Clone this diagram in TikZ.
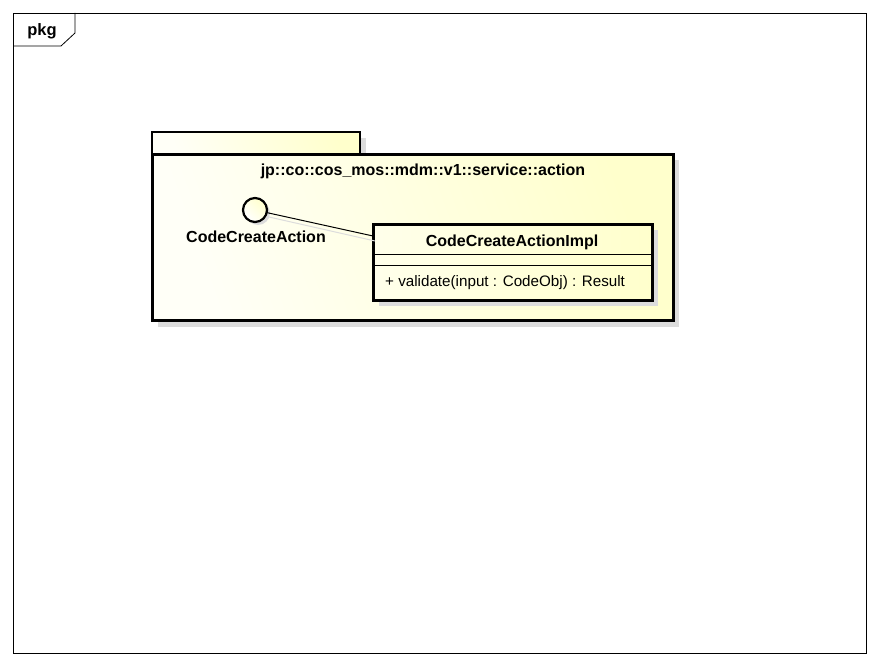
\documentclass[tikz,border=0pt]{standalone}
\usepackage{fontspec}
\setmainfont{Liberation Sans}
\usetikzlibrary{calc}
\definecolor{umlyellow}{RGB}{255,255,204}
\definecolor{umlshadow}{RGB}{220,220,220}
\tikzset{
  px/.style={x=1pt,y=-1pt},
  frameline/.style={draw=black,line width=0.8pt},
  pkgfill/.style={left color=umlyellow!15,right color=umlyellow,shading angle=110},
  shadowbox/.style={fill=umlshadow,draw=none},
  boldlabel/.style={font=\fontsize{16}{18}\selectfont\bfseries,inner sep=0pt},
  plainlabel/.style={font=\fontsize{15.2}{17}\selectfont,inner sep=0pt},
}
\begin{document}
\begin{tikzpicture}[px]
  \useasboundingbox (0,0) rectangle (880,666);
  \fill[white] (0,0) rectangle (880,666);

  % outer diagram frame with its name tab
  \draw[frameline] (13,13) rectangle (866,653);
  \draw[frameline] (75,13) -- (75,33) -- (61,46) -- (13,46);
  \node[boldlabel,font=\fontsize{16.5}{18}\selectfont\bfseries] (framename) at (42,31) {pkg};

  % package shadow
  \fill[shadowbox] (158,138) rectangle (366,160);
  \fill[shadowbox] (158,160) rectangle (679,327);

  % package tab and body
  \shade[pkgfill] (152,132) rectangle (360,154);
  \draw[line width=2.5pt] (152,132) rectangle (360,154);
  \shade[pkgfill] (152,154) rectangle (673,320);
  \draw[line width=3pt] (152,154) rectangle (673,320);
  \node[boldlabel] (pkgname) at (423,171.5) {jp::co::cos\_mos::mdm::v1::service::action};

  % interface lollipop
  \fill[umlshadow] (258,213) circle (12);
  \shade[left color=white,right color=umlyellow,shading angle=135] (255,210) circle (12);
  \draw[line width=2.2pt] (255,210) circle (12);
  \coordinate (ifcc) at (255,210);
  \node[boldlabel] (ifclabel) at (256,237) {CodeCreateAction};

  % class box
  \fill[umlshadow] (379,230) rectangle (658,306);
  \shade[left color=umlyellow!40,right color=umlyellow] (373,224) rectangle (652,300);
  \draw[line width=3pt] (373,224) rectangle (652,300);
  \draw[line width=1pt] (373,254) -- (652,254);
  \draw[line width=1pt] (373,265) -- (652,265);
  \node[boldlabel] (clsname) at (512,242) {CodeCreateActionImpl};
  \node[plainlabel,anchor=west] (op) at (385,283) {+ validate(input : CodeObj) : Result};
  \coordinate (clsw) at (373,236);

  % realization link from interface to class
  \draw[umlshadow,line width=1pt] ($(ifcc)+(14,7)$) -- ($(clsw)+(2,5)$);
  \draw[line width=1pt] ($(ifcc)!12pt!(clsw)$) -- (clsw);
\end{tikzpicture}
\end{document}
